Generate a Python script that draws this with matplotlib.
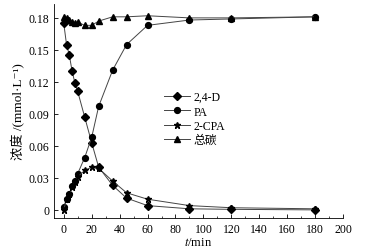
import matplotlib.pyplot as plt
from matplotlib.ticker import MultipleLocator

plt.rcParams['font.family'] = ['Liberation Serif', 'Noto Sans CJK SC', 'DejaVu Sans']
plt.rcParams['mathtext.fontset'] = 'stix'

# time points (min)
t = [0, 2, 4, 6, 8, 10, 15, 20, 25, 35, 45, 60, 90, 120, 180]

# concentrations (mmol/L)
d24 = [0.175, 0.155, 0.145, 0.130, 0.119, 0.111, 0.087, 0.063, 0.040, 0.023, 0.011, 0.004, 0.001, 0.0005, 0.0]
pa = [0.003, 0.010, 0.015, 0.022, 0.027, 0.034, 0.049, 0.068, 0.097, 0.131, 0.155, 0.173, 0.178, 0.179, 0.181]
cpa = [0.0, 0.010, 0.015, 0.021, 0.026, 0.031, 0.037, 0.040, 0.039, 0.027, 0.016, 0.010, 0.004, 0.002, 0.001]
total_c = [0.181, 0.180, 0.178, 0.176, 0.175, 0.176, 0.173, 0.173, 0.177, 0.181, 0.181, 0.182, 0.180, 0.180, 0.181]

labels = ['2,4-D', 'PA', '2-CPA', '总碳']

fig = plt.figure(figsize=(3.8, 2.51), dpi=100)
ax = fig.add_axes([0.142, 0.128, 0.761, 0.852])

lc = '#444444'
ax.plot(t, d24, color=lc, lw=0.7, marker='D', ms=3.6, mfc='black', mec='black', label=labels[0])
ax.plot(t, pa, color=lc, lw=0.7, marker='o', ms=4.2, mfc='black', mec='black', label=labels[1])
ax.plot(t, cpa, color=lc, lw=0.7, marker='*', ms=4.5, mfc='black', mec='black', label=labels[2])
ax.plot(t, total_c, color=lc, lw=0.7, marker='^', ms=4.2, mfc='black', mec='black', label=labels[3])

ax.set_xlim(-7, 200)
ax.set_ylim(-0.0075, 0.193)
ax.xaxis.set_major_locator(MultipleLocator(20))
ax.xaxis.set_minor_locator(MultipleLocator(10))
ax.set_yticks([0, 0.03, 0.06, 0.09, 0.12, 0.15, 0.18])
ax.set_yticklabels(['0', '0.03', '0.06', '0.09', '0.12', '0.15', '0.18'])
ax.tick_params(direction='in', labelsize=8.5, length=3, width=0.6)
ax.tick_params(which='minor', direction='in', length=1.5, width=0.5)

for s in ['top', 'right']:
    ax.spines[s].set_visible(False)
for s in ['left', 'bottom']:
    ax.spines[s].set_linewidth(0.6)

ax.set_xlabel('$t$/min', fontsize=9, labelpad=1)
ax.set_ylabel('浓度 /(mmol·L⁻¹)', fontsize=9.5, labelpad=2)

ax.legend(loc='upper left', bbox_to_anchor=(0.36, 0.62), frameon=False, fontsize=8.5,
          handlelength=2.2, handletextpad=0.3, labelspacing=0.2, borderpad=0)

fig.savefig('out.png', dpi=100)
